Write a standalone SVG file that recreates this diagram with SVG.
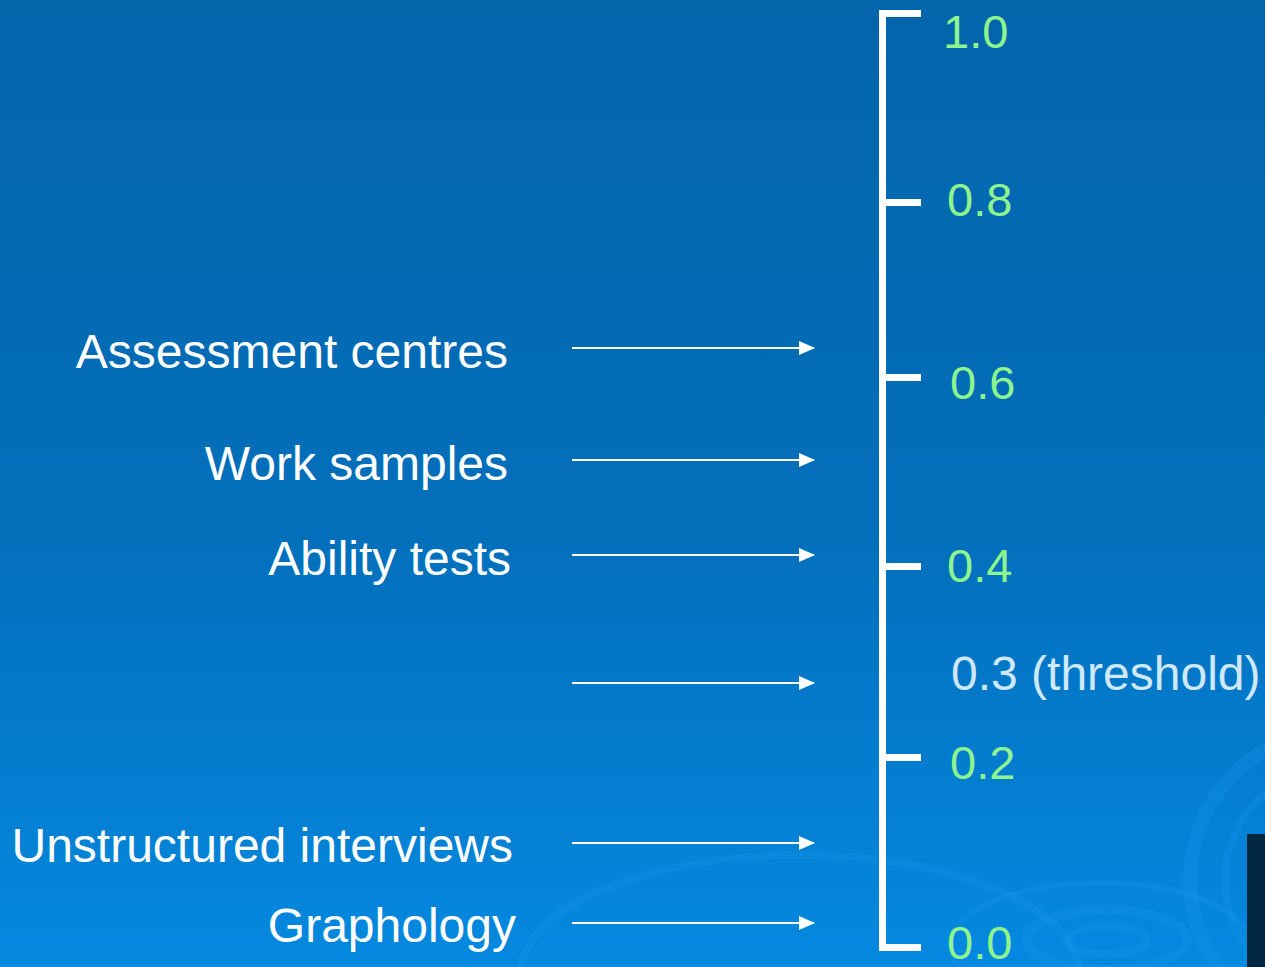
<svg xmlns="http://www.w3.org/2000/svg" width="1265" height="967" viewBox="0 0 1265 967">
  <defs>
    <linearGradient id="bg" x1="0" y1="0" x2="0" y2="1">
      <stop offset="0" stop-color="#0365AA"/>
      <stop offset="0.55" stop-color="#036FBB"/>
      <stop offset="1" stop-color="#0489E0"/>
    </linearGradient>
    <marker id="arr" markerWidth="16" markerHeight="14" refX="15" refY="7" orient="auto" markerUnits="userSpaceOnUse">
      <path d="M0,0 L16,7 L0,14 Z" fill="#FFFFFF"/>
    </marker>
    <style>
      .lbl { font-family: "Liberation Sans", Arial, sans-serif; font-size: 48px; fill: #FFFFFF; text-anchor: end; }
      .val { font-family: "Liberation Sans", Arial, sans-serif; font-size: 47px; fill: #8EF58E; }
      .thr { font-family: "Liberation Sans", Arial, sans-serif; font-size: 48px; fill: #CFE8FA; }
      .conn { stroke: #FFFFFF; stroke-width: 2; fill: none; marker-end: url(#arr); }
      .bar { fill: #FFFFFF; }
      .swirl { fill: none; stroke: #1A9BF0; stroke-opacity: 0.22; }
    </style>
  </defs>

  <rect x="0" y="0" width="1265" height="967" fill="url(#bg)"/>

  <g id="background-swirls">
    <ellipse class="swirl" cx="1107" cy="940" rx="40" ry="14" stroke-width="8"/>
    <ellipse class="swirl" cx="1107" cy="940" rx="80" ry="30" stroke-width="10"/>
    <ellipse class="swirl" cx="1100" cy="945" rx="150" ry="62" stroke-width="6"/>
    <ellipse class="swirl" cx="800" cy="975" rx="280" ry="120" stroke-width="8"/>
    <ellipse class="swirl" cx="1340" cy="880" rx="150" ry="150" stroke-width="14"/>
    <ellipse class="swirl" cx="1340" cy="880" rx="115" ry="115" stroke-width="8"/>
  </g>

  <rect x="1247" y="834" width="18" height="133" fill="#01263F"/>

  <g id="scale">
    <rect class="bar" x="879" y="10" width="7" height="941"/>
    <rect class="bar" x="879" y="10" width="42" height="7"/>
    <rect class="bar" x="879" y="199" width="42" height="7"/>
    <rect class="bar" x="879" y="374" width="42" height="7"/>
    <rect class="bar" x="879" y="563" width="42" height="7"/>
    <rect class="bar" x="879" y="754" width="42" height="7"/>
    <rect class="bar" x="879" y="944" width="42" height="7"/>
  </g>

  <g id="scale-values">
    <text class="val" x="943" y="48">1.0</text>
    <text class="val" x="947" y="216">0.8</text>
    <text class="val" x="950" y="399">0.6</text>
    <text class="val" x="947" y="582">0.4</text>
    <text class="thr" x="951" y="690">0.3 (threshold)</text>
    <text class="val" x="950" y="779">0.2</text>
    <text class="val" x="947" y="959">0.0</text>
  </g>

  <g id="node-assessment-centres"><text class="lbl" x="508" y="368">Assessment centres</text></g>
  <g id="node-work-samples"><text class="lbl" x="508" y="480">Work samples</text></g>
  <g id="node-ability-tests"><text class="lbl" x="511" y="575">Ability tests</text></g>
  <g id="node-unstructured-interviews"><text class="lbl" x="513" y="862">Unstructured interviews</text></g>
  <g id="node-graphology"><text class="lbl" x="516" y="942">Graphology</text></g>

  <g id="connectors">
    <line class="conn" x1="572" y1="348" x2="814" y2="348"/>
    <line class="conn" x1="572" y1="460" x2="814" y2="460"/>
    <line class="conn" x1="572" y1="555" x2="814" y2="555"/>
    <line class="conn" x1="572" y1="683" x2="814" y2="683"/>
    <line class="conn" x1="572" y1="843" x2="814" y2="843"/>
    <line class="conn" x1="572" y1="923" x2="814" y2="923"/>
  </g>
</svg>
